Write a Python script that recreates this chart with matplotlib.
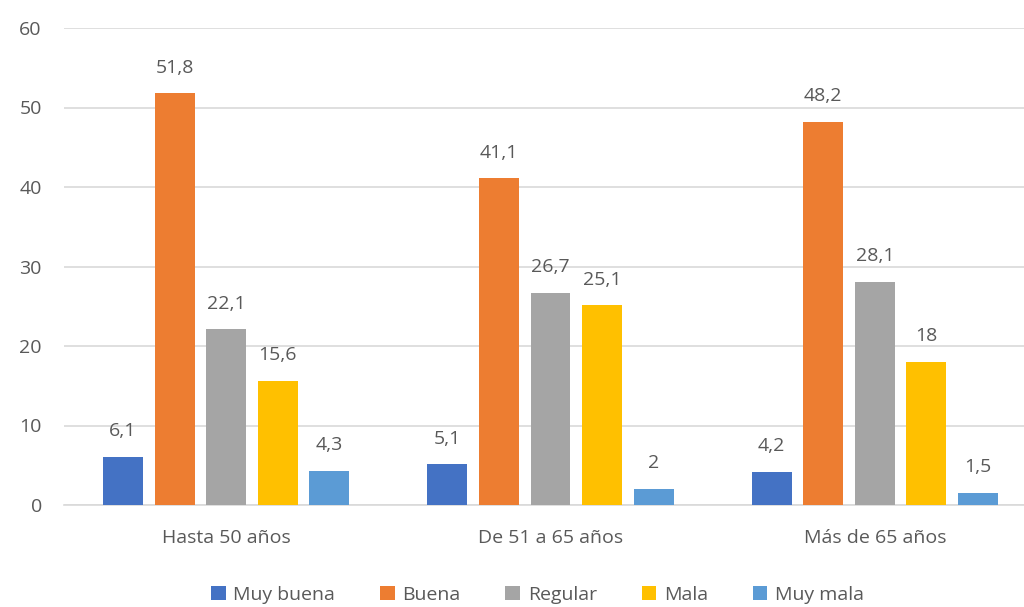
import numpy as np
import matplotlib
matplotlib.use('Agg')
from matplotlib import pyplot as plt

categories = ["Hasta 50 años", "De 51 a 65 años", "Más de 65 años"]
series = ["Muy buena", "Buena", "Regular", "Mala", "Muy mala"]
muy_buena = [6.1, 5.1, 4.2]
buena = [51.8, 41.1, 48.2]
regular = [22.1, 26.7, 28.1]
mala = [15.6, 25.1, 18]
muy_mala = [4.3, 2, 1.5]
values = [muy_buena, buena, regular, mala, muy_mala]
colors = ['#4472C4', '#ED7D31', '#A5A5A5', '#FFC000', '#5B9BD5']

plt.rcParams['font.family'] = ['Open Sans', 'DejaVu Sans']
txt = '#595959'

fig = plt.figure(figsize=(10.24, 6.07), dpi=100)
ax = fig.add_axes([64/1024, 102/607, 973/1024, 477/607])

x = np.arange(len(categories))
step = 0.159
width = 0.123
for i, (name, vals) in enumerate(zip(series, values)):
    pos = x + (i - 2) * step
    bars = ax.bar(pos, vals, width, color=colors[i], label=name, zorder=3)
    for b, v in zip(bars, vals):
        lab = ('%g' % v).replace('.', ',')
        ax.annotate(lab, (b.get_x() + b.get_width()/2, v), xytext=(0, 12),
                    textcoords='offset points', ha='center', va='bottom',
                    fontsize=14, color=txt)

ax.set_xlim(-0.5, 2.5)
ax.set_ylim(0, 60)
ax.set_yticks(range(0, 61, 10))
ax.set_xticks(x)
ax.set_xticklabels(categories)
ax.tick_params(axis='both', length=0, labelsize=14, labelcolor=txt)
ax.tick_params(axis='y', pad=16)
ax.tick_params(axis='x', pad=17)
ax.grid(axis='y', color='#D9D9D9', linewidth=1.2, zorder=0)
for s in ['top', 'right', 'left']:
    ax.spines[s].set_visible(False)
ax.spines['bottom'].set_color('#D9D9D9')
ax.spines['bottom'].set_linewidth(1.2)

leg = fig.legend(loc='center', bbox_to_anchor=(0.525, 12/607), ncol=5, frameon=False,
                 fontsize=14, handlelength=0.75, handleheight=0.75, handletextpad=0.4,
                 columnspacing=2.3)
for t in leg.get_texts():
    t.set_color(txt)

plt.savefig('out.png', dpi=100)
